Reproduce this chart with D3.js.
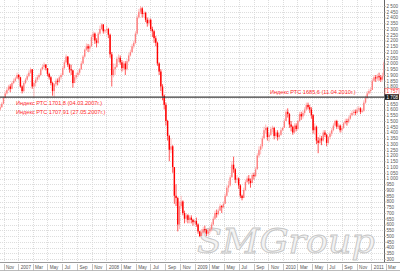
<!DOCTYPE html>
<html><head><meta charset="utf-8">
<script src="https://cdn.jsdelivr.net/npm/d3@7"></script>
<style>body{margin:0;background:#fff}svg{display:block}</style>
</head><body>
<svg id="c" width="400" height="272"></svg>
<script>
// ---- data (weekly RTS index, from 2006-10-16) ----
const firstWeek = "2006-10-16";
const firstOpen = 1600;
const closes = [
1620,1650,1700,1740,1770,1800,1780,1830,1850,1870,1900,1880,
1800,1760,1830,1860,1890,1920,1950,1800,1830,1860,1880,1900,
1950,1970,1990,1960,1910,1880,1830,1760,1820,1850,1840,1880,
1900,1960,2010,2060,1990,1950,1940,1830,1880,1900,1920,1950,
2000,2060,2120,2150,2130,2150,2230,2260,2200,2180,2260,2300,
2340,2280,2290,2300,2250,2080,1900,1950,1970,2040,2050,2010,
1960,2000,1950,2020,2070,2100,2150,2180,2260,2400,2450,2480,
2430,2440,2380,2350,2380,2300,2280,2220,2180,2000,1930,1800,
1720,1640,1500,1370,1250,1280,1100,850,830,600,760,800,
700,650,680,640,660,640,620,630,600,540,500,530,
560,550,520,540,560,600,650,700,690,720,760,750,
780,850,920,940,1010,1120,1080,990,1000,940,850,830,
900,970,1000,980,960,1030,1020,1080,1200,1250,1280,1350,
1420,1440,1360,1380,1430,1440,1370,1400,1360,1380,1420,1440,
1500,1580,1560,1470,1450,1400,1460,1430,1500,1560,1540,1570,
1600,1640,1620,1600,1550,1420,1450,1330,1310,1350,1330,1400,
1380,1310,1360,1390,1420,1460,1500,1450,1460,1420,1440,1480,
1500,1490,1520,1550,1570,1580,1570,1600,1610,1580,1590,1660,
1700,1740,1760,1770,1850,1880,1870,1890,1880,1860,1890,2010];
const highs = [
1640,1665,1710,1760,1790,1815,1820,1845,1870,1885,1920,1910,
1885,1810,1845,1875,1910,1940,1965,1950,1845,1880,1900,1915,
1960,1990,2010,1995,1960,1920,1890,1840,1830,1870,1870,1895,
1915,1975,2030,2080,2065,2000,1990,1945,1900,1920,1940,1960,
2020,2075,2130,2175,2170,2165,2250,2280,2270,2220,2275,2330,
2350,2340,2300,2330,2310,2260,2100,2000,2000,2060,2080,2070,
2030,2020,2020,2040,2090,2120,2170,2200,2280,2420,2475,2500,
2490,2460,2450,2400,2395,2390,2320,2290,2240,2190,2010,1950,
1820,1730,1660,1510,1380,1350,1290,1100,950,840,800,850,
810,720,700,690,680,680,650,640,660,610,545,560,
580,590,560,560,580,620,670,720,730,740,780,770,
800,870,940,980,1030,1150,1190,1090,1030,1010,950,860,
920,990,1020,1030,1000,1050,1050,1100,1220,1280,1300,1370,
1450,1470,1450,1400,1450,1460,1450,1420,1420,1400,1440,1450,
1520,1600,1610,1570,1500,1460,1480,1480,1510,1580,1580,1590,
1620,1660,1660,1640,1620,1560,1480,1460,1360,1380,1370,1420,
1420,1390,1370,1410,1440,1480,1510,1510,1480,1470,1460,1490,
1520,1520,1540,1570,1590,1600,1600,1620,1630,1620,1610,1680,
1720,1760,1780,1790,1870,1900,1900,1910,1920,1900,1920,2030];
const lows = [
1590,1615,1645,1695,1730,1760,1750,1775,1820,1840,1865,1860,
1790,1740,1750,1820,1850,1880,1910,1780,1700,1800,1840,1860,
1890,1940,1950,1940,1890,1860,1810,1720,1708,1800,1810,1830,
1860,1895,1950,2000,1970,1920,1900,1790,1830,1860,1880,1900,
1945,1995,2050,2110,2100,2100,2145,2200,2170,2140,2170,2250,
2290,2260,2260,2270,2220,2050,1800,1880,1900,1960,2010,1990,
1930,1940,1900,1940,2010,2060,2090,2130,2170,2250,2390,2430,
2400,2400,2360,2320,2330,2280,2230,2180,2150,1980,1900,1760,
1680,1600,1460,1330,1150,1220,1050,780,760,540,560,740,
680,610,620,610,610,610,590,600,580,520,490,500,
520,530,500,500,520,540,590,640,660,680,720,700,
740,780,840,880,930,1010,1050,960,960,910,830,810,
830,890,960,950,920,960,990,1010,1080,1180,1210,1260,
1340,1390,1330,1320,1370,1400,1340,1350,1330,1340,1370,1410,
1440,1500,1530,1440,1410,1380,1390,1410,1420,1490,1510,1520,
1550,1590,1600,1570,1520,1390,1380,1300,1220,1300,1290,1320,
1360,1280,1300,1340,1370,1410,1450,1430,1430,1400,1400,1430,
1470,1460,1480,1510,1540,1550,1550,1560,1580,1560,1570,1580,
1650,1690,1730,1740,1770,1840,1840,1850,1850,1840,1850,1880];

const yTickValues = [2500,2450,2400,2350,2300,2250,2200,2150,2100,2050,2000,1950,1900,1850,1800,1750,1700,1650,1600,1550,1500,1450,1400,1350,1300,1250,1200,1150,1100,1050,1000,950,900,850,800,750,700,650,600,550,500,450,400,350,300];
const xTickDates = ["2006-11-01","2007-01-01","2007-03-01","2007-05-01","2007-07-01","2007-09-01","2007-11-01","2008-01-01","2008-03-01","2008-05-01","2008-07-01","2008-09-01","2008-11-01","2009-01-01","2009-03-01","2009-05-01","2009-07-01","2009-09-01","2009-11-01","2010-01-01","2010-03-01","2010-05-01","2010-07-01","2010-09-01","2010-11-01","2011-01-01","2011-03-01"];
const xTickLabels = ["Nov","2007","Mar","May","Jul","Sep","Nov","2008","Mar","May","Jul","Sep","Nov","2009","Mar","May","Jul","Sep","Nov","2010","Mar","May","Jul","Sep","Nov","2011","Mar"];
const levelValue = 1708;
const levelLabels = ["Индекс РТС 1701,8 (04.03.2007г.)","Индекс РТС 1707,91 (27.05.2007г.)","Индекс РТС 1685,6 (11.04.2010г.)"];
const axisBoxes = [{v:1757,t:"1 757"},{v:1708,t:"1 708"}];

// ---- layout ----
const W = 400, H = 272, plotR = 384, plotB = 262;
const parse = d3.timeParse("%Y-%m-%d");
const x = d3.scaleTime().domain([parse("2006-11-01"), parse("2011-03-01")]).range([3.5, 385.6]);
const y = d3.scaleLinear().domain([300, 2500]).range([259, 6]);
const svg = d3.select("#c");
svg.append("rect").attr("width", W).attr("height", H).attr("fill", "#fff");

const w0 = parse(firstWeek);
const data = closes.map((c, i) => ({
  d: d3.timeDay.offset(w0, i * 7 + 2),
  o: i === 0 ? firstOpen : closes[i - 1],
  c, h: highs[i], l: lows[i]
}));

// grid
const grid = svg.append("g");
grid.selectAll("line.h").data(yTickValues).join("line")
  .attr("x1", 0).attr("x2", plotR).attr("y1", d => Math.round(y(d)) + 0.5).attr("y2", d => Math.round(y(d)) + 0.5)
  .attr("stroke", "#d4d4d4").attr("stroke-width", 0.8).attr("stroke-dasharray", "1,1");
const xt = xTickDates.map(parse);
grid.selectAll("line.v").data(xt.filter(d => x(d) < plotR)).join("line")
  .attr("x1", d => Math.round(x(d)) + 0.5).attr("x2", d => Math.round(x(d)) + 0.5).attr("y1", 0).attr("y2", plotB)
  .attr("stroke", "#d4d4d4").attr("stroke-width", 0.8).attr("stroke-dasharray", "1,1");

// watermark
svg.append("text").attr("x", 197).attr("y", 253)
  .attr("font-family", "'DejaVu Serif', 'Liberation Serif', serif").attr("font-style", "italic")
  .attr("font-size", 34).attr("textLength", 178).attr("lengthAdjust", "spacingAndGlyphs")
  .attr("fill", "#f3f3f3").attr("stroke", "#c6c6c6").attr("stroke-width", 0.9)
  .text("SMGroup");

// candles
const cg = svg.append("g");
const bw = 1.4;
cg.selectAll("line.w").data(data).join("line")
  .attr("x1", d => x(d.d)).attr("x2", d => x(d.d)).attr("y1", d => y(d.h)).attr("y2", d => y(d.l))
  .attr("stroke", d => d.c < d.o ? "#ff1010" : "#ffa0a0").attr("stroke-width", 0.7);
cg.selectAll("rect").data(data).join("rect")
  .attr("x", d => x(d.d) - bw / 2).attr("width", bw)
  .attr("y", d => y(Math.max(d.o, d.c))).attr("height", d => Math.max(0.8, Math.abs(y(d.o) - y(d.c))))
  .attr("fill", d => d.c < d.o ? "#ff0000" : "#ff8080");

// level line
svg.append("line").attr("x1", 0).attr("x2", plotR).attr("y1", y(levelValue)).attr("y2", y(levelValue))
  .attr("stroke", "#3a3a3a").attr("stroke-width", 1.4);

// red labels
const lf = "'Liberation Sans', Arial, sans-serif";
const lpos = [[16, 103], [16, 112], [270, 92]];
svg.selectAll("text.lv").data(levelLabels).join("text")
  .attr("x", (d, i) => lpos[i][0]).attr("y", (d, i) => lpos[i][1]).attr("dy", "0.35em")
  .attr("font-family", lf).attr("font-size", 5.6).attr("fill", "#ff2a2a").text(d => d);

// right axis
svg.append("rect").attr("x", plotR).attr("y", 0).attr("width", W - plotR).attr("height", H).attr("fill", "#fff");
svg.append("line").attr("x1", plotR + 0.5).attr("x2", plotR + 0.5).attr("y1", 0).attr("y2", plotB)
  .attr("stroke", "#666").attr("stroke-width", 1);
const yAxis = d3.axisRight(y).tickValues(yTickValues).tickSize(1.5).tickPadding(1)
  .tickFormat(d => d3.format(",")(d).replace(",", " "));
const ya = svg.append("g").attr("transform", `translate(${plotR},0)`).call(yAxis);
ya.select(".domain").remove();
ya.selectAll("line").attr("stroke", "#888");
ya.selectAll("text").attr("font-family", lf).attr("font-size", 4.6).attr("fill", "#555");

// axis value boxes
const bx = svg.append("g");
axisBoxes.forEach((b, i) => {
  bx.append("rect").attr("x", plotR + 1).attr("y", y(b.v) - 2.8).attr("width", 14).attr("height", 5.6)
    .attr("fill", i === 0 ? "#fff" : "#1e1e1e").attr("stroke", i === 0 ? "#ff4040" : "none").attr("stroke-width", 0.5);
  bx.append("text").attr("x", plotR + 2.5).attr("y", y(b.v)).attr("dy", "0.35em")
    .attr("font-family", lf).attr("font-size", 4.6).attr("fill", i === 0 ? "#ff2020" : "#fff").text(b.t);
});

// bottom axis
svg.append("rect").attr("x", 0).attr("y", plotB).attr("width", W).attr("height", H - plotB).attr("fill", "#fff");
svg.append("line").attr("x1", 0).attr("x2", W).attr("y1", plotB + 0.5).attr("y2", plotB + 0.5).attr("stroke", "#999");
svg.append("line").attr("x1", 0).attr("x2", W).attr("y1", H - 1.5).attr("y2", H - 1.5).attr("stroke", "#bbb");
const xa = svg.append("g");
xa.selectAll("line").data(xt).join("line")
  .attr("x1", d => Math.round(x(d)) + 0.5).attr("x2", d => Math.round(x(d)) + 0.5)
  .attr("y1", plotB + 2).attr("y2", H - 1.5).attr("stroke", "#aaa").attr("stroke-width", 0.7);
xa.selectAll("text").data(xt).join("text")
  .attr("x", d => x(d) + 2.5).attr("y", 268.5)
  .attr("font-family", lf).attr("font-size", 4.6).attr("fill", "#555")
  .text((d, i) => xTickLabels[i]);
</script>
</body></html>
